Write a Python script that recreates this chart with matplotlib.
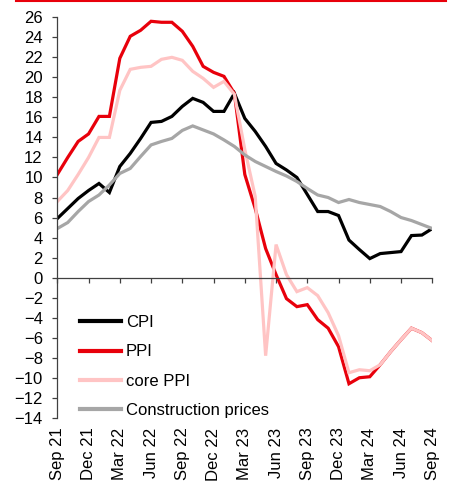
import matplotlib
matplotlib.use("Agg")
import matplotlib.pyplot as plt
from matplotlib.lines import Line2D
import numpy as np

months = list(range(37))
tick_pos = list(range(0, 37, 3))
tick_labels = ["Sep 21", "Dec 21", "Mar 22", "Jun 22", "Sep 22", "Dec 22", "Mar 23",
               "Jun 23", "Sep 23", "Dec 23", "Mar 24", "Jun 24", "Sep 24"]

cpi = [5.9, 6.9, 7.9, 8.7, 9.4, 8.5, 11.1, 12.4, 13.9, 15.5, 15.6, 16.1, 17.1, 17.9, 17.5,
       16.6, 16.6, 18.4, 15.9, 14.6, 13.1, 11.4, 10.75, 10.0, 8.3, 6.6, 6.6, 6.2, 3.75, 2.8,
       1.9, 2.4, 2.5, 2.6, 4.2, 4.25, 4.9]
ppi = [10.3, 12.0, 13.6, 14.35, 16.1, 16.1, 21.9, 24.1, 24.7, 25.6, 25.5, 25.5, 24.6, 23.1,
       21.1, 20.5, 20.1, 18.4, 10.3, 6.9, 2.9, 0.3, -2.1, -2.9, -2.7, -4.2, -5.05, -6.9,
       -10.6, -10.0, -9.9, -8.7, -7.4, -6.2, -5.05, -5.5, -6.3]
core_ppi = [7.6, 8.7, 10.3, 12.0, 14.0, 14.0, 18.7, 20.8, 21.0, 21.1, 21.8, 22.0, 21.7, 20.6,
            19.9, 19.0, 19.6, 18.3, 12.8, 8.1, -7.8, 3.3, 0.3, -1.4, -1.0, -1.8, -3.5, -5.8,
            -9.5, -9.2, -9.3, -8.7, -7.4, -6.2, -5.05, -5.5, -6.3]
construction = [4.9, 5.5, 6.6, 7.6, 8.25, 9.25, 10.4, 10.9, 12.1, 13.25, 13.6, 13.9, 14.7,
                15.15, 14.75, 14.35, 13.75, 13.1, 12.25, 11.6, 11.1, 10.6, 10.15, 9.6, 8.9,
                8.25, 8.0, 7.5, 7.8, 7.5, 7.3, 7.1, 6.6, 6.0, 5.7, 5.3, 4.9]

plt.rcParams['font.family'] = ['Liberation Sans', 'DejaVu Sans']

fig = plt.figure(figsize=(4.52, 4.84), dpi=100)
ax = fig.add_axes([0.1268, 0.1368, 0.8296, 0.8275])

lw = 2.3
ax.plot(months, cpi, color='#000000', lw=lw, label='CPI', solid_joinstyle='miter')
ax.plot(months, ppi, color='#E8000B', lw=lw, label='PPI', solid_joinstyle='miter')
ax.plot(months, core_ppi, color='#FFC4C4', lw=lw, label='core PPI', solid_joinstyle='miter')
ax.plot(months, construction, color='#A6A6A6', lw=lw, label='Construction prices',
        solid_joinstyle='miter')

ax.set_xlim(0, 36)
ax.set_ylim(-14, 26)
ax.set_yticks(np.arange(-14, 27, 2))

spine_c = '#404040'
for s in ['top', 'right']:
    ax.spines[s].set_visible(False)
ax.spines['left'].set_color(spine_c)
ax.spines['left'].set_linewidth(0.9)
ax.spines['bottom'].set_position(('data', 0))
ax.spines['bottom'].set_color(spine_c)
ax.spines['bottom'].set_linewidth(0.9)

ax.set_xticks(tick_pos)
ax.tick_params(axis='x', direction='out', length=3.6, width=0.9, color=spine_c,
               labelbottom=False)
ax.tick_params(axis='y', direction='out', length=3.4, width=0.9, color=spine_c,
               labelsize=12, pad=7)

sec = ax.secondary_xaxis(0)
sec.set_xticks(tick_pos)
sec.set_xticklabels(tick_labels, rotation=90, fontsize=12)
sec.tick_params(length=0, pad=7)
sec.spines['bottom'].set_visible(False)

leg = ax.legend(loc='lower left', bbox_to_anchor=(0.06, 0.0), frameon=False,
                fontsize=12, handlelength=2.5, handletextpad=0.25, labelspacing=0.85,
                borderpad=0, borderaxespad=0)
for h in leg.get_lines():
    h.set_linewidth(3)

fig.add_artist(Line2D([16 / 452, 446 / 452], [483.5 / 484, 483.5 / 484],
                      color='#E8000B', lw=1.5, transform=fig.transFigure))

fig.savefig('out.png', dpi=100)
